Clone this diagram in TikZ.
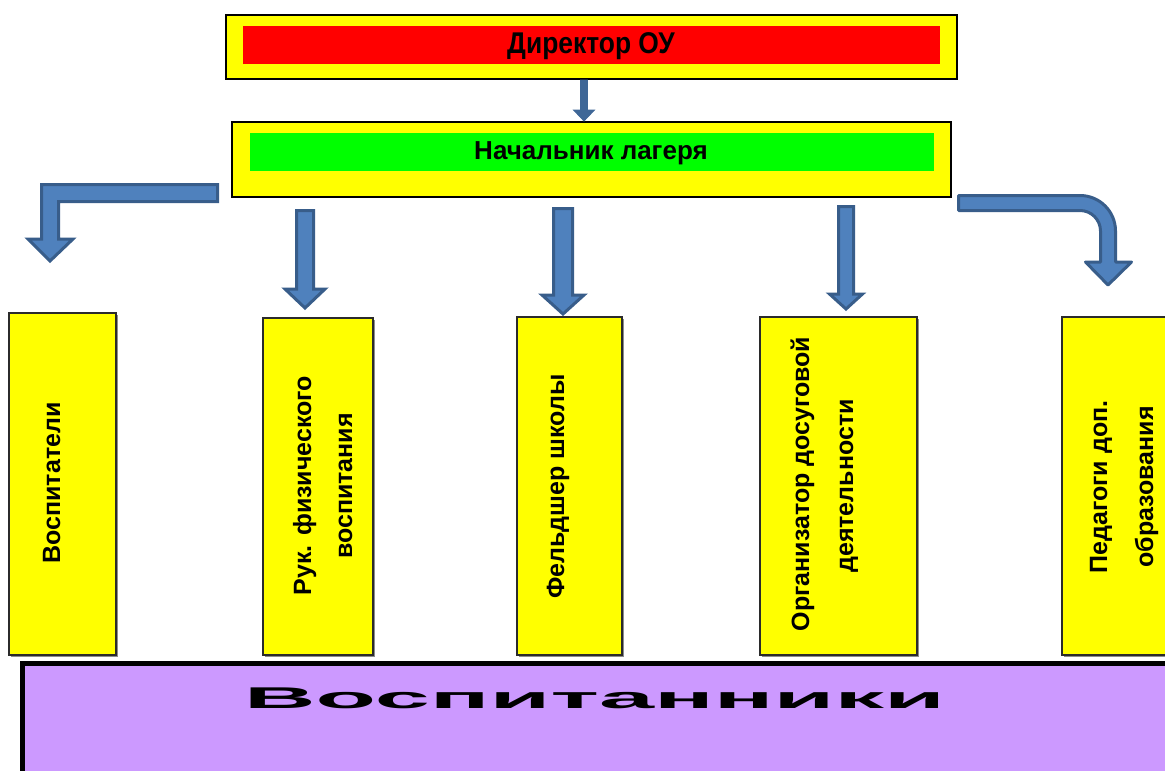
\documentclass[tikz,border=0pt]{standalone}
\usepackage{fontspec}
\setmainfont{Liberation Sans}
\definecolor{boxyellow}{HTML}{FFFF00}
\definecolor{boxred}{HTML}{FF0000}
\definecolor{boxgreen}{HTML}{00FF00}
\definecolor{boxpurple}{HTML}{CC99FF}
\definecolor{arrowfill}{HTML}{4F81BD}
\definecolor{arrowline}{HTML}{385D8A}
\definecolor{arrowdark}{HTML}{3F6797}
\definecolor{edgegray}{HTML}{2B2B2B}
\newcommand\blockdown[6]{%
  \path[blockarrow] (#1-#2,#3) -- (#1+#2,#3) -- (#1+#2,#4) -- (#1+#5,#4) -- (#1,#6) -- (#1-#5,#4) -- (#1-#2,#4) -- cycle;}
\begin{document}
\begin{tikzpicture}[x=1pt,y=-1pt,
  outerbox/.style={draw=black, line width=2pt, fill=boxyellow, rectangle, inner sep=0pt, outer sep=0pt},
  innerbox/.style={rectangle, inner sep=0pt, outer sep=0pt},
  vbox/.style={draw=edgegray, line width=2pt, fill=boxyellow, rectangle, inner sep=0pt, outer sep=0pt},
  shadowbox/.style={fill=black!45, rectangle, inner sep=0pt, outer sep=0pt},
  vtext/.style={rotate=90, anchor=base, inner sep=0pt, font=\fontsize{25}{30}\selectfont\bfseries},
  htext/.style={inner sep=0pt, font=\fontsize{30}{34}\selectfont\bfseries},
  blockarrow/.style={fill=arrowfill, draw=arrowline, line width=3pt, line join=miter},
  curvearrow/.style={fill=arrowfill, draw=arrowline, line width=3pt, line join=round},
  thinarrow/.style={fill=arrowdark, draw=arrowdark, line width=0.8pt}]
\useasboundingbox (0,0) rectangle (1165,771);
\clip (0,0) rectangle (1165,771);
\fill[white] (0,0) rectangle (1165,771);

% top boxes
\node[outerbox, minimum width=731pt, minimum height=64pt] (dirbox) at (591.5,47) {};
\node[innerbox, fill=boxred, minimum width=697pt, minimum height=38pt] (dirin) at (591.5,45) {};
\node[htext] (dirtext) at (591,46) {\scalebox{0.88}[1]{Директор ОУ}};

\node[outerbox, minimum width=719pt, minimum height=75pt] (chiefbox) at (591.5,159.5) {};
\node[innerbox, fill=boxgreen, minimum width=684pt, minimum height=38pt] (chiefin) at (592,152) {};
\node[htext, font=\fontsize{26}{30}\selectfont\bfseries] (chieftext) at (591,153) {Начальник лагеря};

% arrow director -> chief
\path[thinarrow] (580.5,80) -- (587.5,80) -- (587.5,110) -- (594.5,110) -- (584,121) -- (573.5,110) -- (580.5,110) -- cycle;

% vertical boxes (with slight shadow)
\node[shadowbox, minimum width=107pt, minimum height=342pt] at (64,485.5) {};
\node[vbox, minimum width=107pt, minimum height=342pt] (b1) at (62.5,484) {};
\node[shadowbox, minimum width=110pt, minimum height=337pt] at (319.5,488) {};
\node[vbox, minimum width=110pt, minimum height=337pt] (b2) at (318,486.5) {};
\node[shadowbox, minimum width=105pt, minimum height=338pt] at (571,487.5) {};
\node[vbox, minimum width=105pt, minimum height=338pt] (b3) at (569.5,486) {};
\node[shadowbox, minimum width=157pt, minimum height=338pt] at (840,487.5) {};
\node[vbox, minimum width=157pt, minimum height=338pt] (b4) at (838.5,486) {};
\node[shadowbox, minimum width=113pt, minimum height=338pt] at (1120,487.5) {};
\node[vbox, minimum width=113pt, minimum height=338pt] (b5) at (1118.5,486) {};

\node[vtext] (t1) at (60,483) {Воспитатели};
\node[vtext] (t2a) at (311,485.5) {Рук. физического};
\node[vtext] (t2b) at (352,486) {воспитания};
\node[vtext] (t3) at (564,486.5) {Фельдшер школы};
\node[vtext] (t4a) at (809,484) {Организатор досуговой};
\node[vtext] (t4b) at (853,486) {деятельности};
\node[vtext] (t5a) at (1107,487) {Педагоги доп.};
\node[vtext] (t5b) at (1153,487) {образования};

% left elbow arrow
\path[blockarrow] (217.5,184.5) -- (41.5,184.5) -- (41.5,239) -- (28,239) -- (50,261) -- (73,239) -- (58.5,239) -- (58.5,201.5) -- (217.5,201.5) -- cycle;

% straight arrows
\blockdown{305}{8.5}{210.5}{289}{20}{308}
\blockdown{563}{9.5}{208.5}{295}{21}{314}
\blockdown{846}{7.5}{206.5}{294}{16.5}{309}

% right curved arrow
\path[curvearrow] (958.5,195.5) -- (1080,195.5) .. controls (1099.6,195.5) and (1115.5,211.4) .. (1115.5,231)
  -- (1115.5,262) -- (1131.5,262) -- (1108,285) -- (1085.5,262) -- (1100.5,262) -- (1100.5,231)
  .. controls (1100.5,219.7) and (1091.3,210.5) .. (1080,210.5) -- (958.5,210.5) -- cycle;

% bottom purple box
\node[rectangle, draw=black, line width=5pt, fill=boxpurple, anchor=north west, minimum width=1200pt, minimum height=150pt, inner sep=0pt, outer sep=0pt] (pupils) at (22.5,663.5) {};
\node[inner sep=0pt, font=\fontsize{30}{36}\selectfont\bfseries] (pupilstext) at (594.5,698) {\scalebox{3.3}[1]{Воспитанники}};
\end{tikzpicture}
\end{document}
